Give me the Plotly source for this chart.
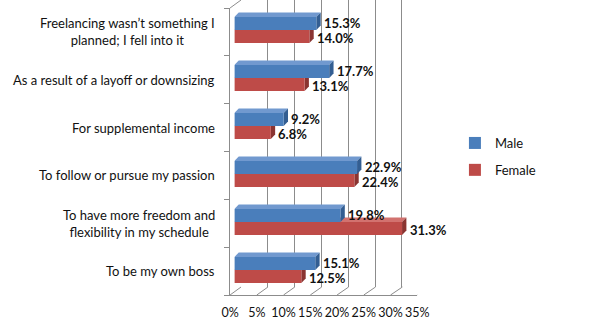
import plotly.graph_objects as go

# ---- data -------------------------------------------------------------
categories = [
    "Freelancing wasn\u2019t something I<br>planned; I fell into it",
    "As a result of a layoff or downsizing",
    "For supplemental income",
    "To follow or pursue my passion",
    "To have more freedom and<br>flexibility in my schedule",
    "To be my own boss",
]
male = [15.3, 17.7, 9.2, 22.9, 19.8, 15.1]
female = [14.0, 13.1, 6.8, 22.4, 31.3, 12.5]
series_names = ["Male", "Female"]
x_ticks = [0, 5, 10, 15, 20, 25, 30, 35]

# ---- canvas / 3-D geometry (pixels) -------------------------------------
W, H = 604, 323
XMAX = 35
N = len(categories)

FRONT_X = (229, 423)      # front floor edge: 0% .. 35%
FRONT_Y = (8, 295)        # front left edge: top .. bottom
BACK_X = (240, 435)       # back wall: 0% .. 35%
BACK_Y = (0, 287)
BAR_X = (233.5, 233.5 + 5.55 * XMAX)
BAR_Y = (6, 294)
DEPTH_DX, DEPTH_DY = 4.5, 4.5   # visible depth of each bar
BAR_W = 0.27                    # bar thickness in category units

BLUE = dict(front="#4A7EBB", top="#7199CF", side="#335E92")
RED = dict(front="#BE4B48", top="#D2726F", side="#8A3431")
GRID = "#8C8C8C"
TEXT = "#111111"
FONT = "Lato"


def xdom(px):
    return [px[0] / W, px[1] / W]


def ydom(px):
    return [1 - px[1] / H, 1 - px[0] / H]


fig = go.Figure()

# subplot 1: back wall with vertical gridlines
fig.add_trace(go.Scatter(x=[None], y=[None], xaxis="x", yaxis="y",
                         showlegend=False, hoverinfo="skip"))

# subplot 2: top and side faces of the bars
ddx = DEPTH_DX / ((BAR_X[1] - BAR_X[0]) / XMAX)
ddy = DEPTH_DY / ((BAR_Y[1] - BAR_Y[0]) / N)


def face(xs, ys, color):
    fig.add_trace(go.Scatter(x=xs + [xs[0]], y=ys + [ys[0]], mode="lines",
                             fill="toself", fillcolor=color,
                             line=dict(width=0, color=color),
                             xaxis="x2", yaxis="y2", showlegend=False,
                             hoverinfo="skip"))


for vals, top_edge, col in ((female, 0.0, RED), (male, -BAR_W, BLUE)):
    for i, v in enumerate(vals):
        yt = i + top_edge
        yb = yt + BAR_W
        face([0, v, v + ddx, ddx], [yt, yt, yt - ddy, yt - ddy], col["top"])
        face([v, v + ddx, v + ddx, v], [yt, yt - ddy, yb - ddy, yb], col["side"])

# subplot 3: front faces of the bars
for name, vals, offset, col in ((series_names[0], male, -BAR_W, BLUE),
                                (series_names[1], female, 0.0, RED)):
    fig.add_trace(go.Bar(
        x=vals, y=list(range(N)), orientation="h", name=name,
        width=BAR_W, offset=offset, marker=dict(color=col["front"], line=dict(width=0)),
        xaxis="x3", yaxis="y3", legendgroup=name, showlegend=True,
        hovertemplate=name + ": %{x}%<extra></extra>",
    ))

# subplot 4: front floor / left edge with tick labels
fig.add_trace(go.Scatter(x=[None], y=[None], xaxis="x4", yaxis="y4",
                         showlegend=False, hoverinfo="skip"))

hidden = dict(showgrid=False, zeroline=False, showticklabels=False,
              showline=False, ticks="", fixedrange=True)

fig.update_layout(
    width=W, height=H,
    margin=dict(l=0, r=0, t=0, b=0),
    paper_bgcolor="white", plot_bgcolor="rgba(0,0,0,0)",
    barmode="overlay",
    font=dict(family=FONT, size=13, color=TEXT),
    xaxis=dict(domain=xdom(BACK_X), range=[0, XMAX], tickvals=x_ticks,
               showgrid=True, gridcolor=GRID, gridwidth=1, zeroline=False,
               showticklabels=False, showline=False, ticks="", anchor="y"),
    yaxis=dict(domain=ydom(BACK_Y), range=[0, 1], anchor="x", **hidden),
    xaxis2=dict(domain=xdom(BAR_X), range=[0, XMAX], anchor="y2", **hidden),
    yaxis2=dict(domain=ydom(BAR_Y), range=[N - 0.5, -0.5], anchor="x2", **hidden),
    xaxis3=dict(domain=xdom(BAR_X), range=[0, XMAX], anchor="y3", **hidden),
    yaxis3=dict(domain=ydom(BAR_Y), range=[N - 0.5, -0.5], anchor="x3", **hidden),
    xaxis4=dict(domain=xdom(FRONT_X), range=[0, XMAX], anchor="y4",
                tickvals=x_ticks, ticktext=[f"{t}%" for t in x_ticks],
                showgrid=False, zeroline=False, showline=True, linecolor=GRID,
                linewidth=1, ticks="", ticklabelstandoff=6,
                tickfont=dict(size=12.5, color=TEXT), fixedrange=True),
    yaxis4=dict(domain=ydom(FRONT_Y), range=[N - 0.5, -0.5], anchor="x4",
                tickvals=[k - 0.5 for k in range(N + 1)], showticklabels=False,
                showgrid=False, zeroline=False, showline=True, linecolor=GRID,
                linewidth=1, ticks="outside", ticklen=5, tickcolor=GRID,
                fixedrange=True),
    legend=dict(x=462 / W, y=1 - 128 / H, xanchor="left", yanchor="top",
                font=dict(size=13, color=TEXT), tracegroupgap=7,
                bgcolor="rgba(0,0,0,0)", itemclick=False),
)

# floor diagonals joining the front edge to the back wall
front_scale = (FRONT_X[1] - FRONT_X[0]) / XMAX
back_scale = (BACK_X[1] - BACK_X[0]) / XMAX
floor_y = 1 - FRONT_Y[1] / H
rise = FRONT_Y[1] - BACK_Y[1]
for t in x_ticks:
    dx = (BACK_X[0] + back_scale * t) - (FRONT_X[0] + front_scale * t)
    fig.add_shape(type="line", xref="x4", xsizemode="pixel", xanchor=t,
                  x0=0, x1=dx, yref="paper", ysizemode="pixel",
                  yanchor=floor_y, y0=0, y1=rise,
                  line=dict(color=GRID, width=1))
# top edge of the left wall
fig.add_shape(type="line", xref="x4", xsizemode="pixel", xanchor=0,
              x0=0, x1=BACK_X[0] - FRONT_X[0], yref="paper", ysizemode="pixel",
              yanchor=1 - FRONT_Y[0] / H, y0=0, y1=FRONT_Y[0] - BACK_Y[0],
              line=dict(color=GRID, width=1))

# category labels, centred lines, to the left of the chart
for i, c in enumerate(categories):
    fig.add_annotation(text=c, xref="paper", x=216 / W, xanchor="right",
                       yref="y4", y=i, yanchor="middle", align="center",
                       showarrow=False, font=dict(size=13, color=TEXT))

# value labels at the end of each bar
for vals, centre, lift in ((male, -BAR_W / 2, 1), (female, BAR_W / 2, -2)):
    for i, v in enumerate(vals):
        fig.add_annotation(text=f"<b>{v:.1f}%</b>", xref="x3", x=v,
                           xanchor="left", xshift=DEPTH_DX + 2,
                           yref="y3", y=i + centre, yanchor="middle",
                           yshift=lift, borderpad=0,
                           showarrow=False, font=dict(size=13, color=TEXT))

fig.write_html("out.html")
